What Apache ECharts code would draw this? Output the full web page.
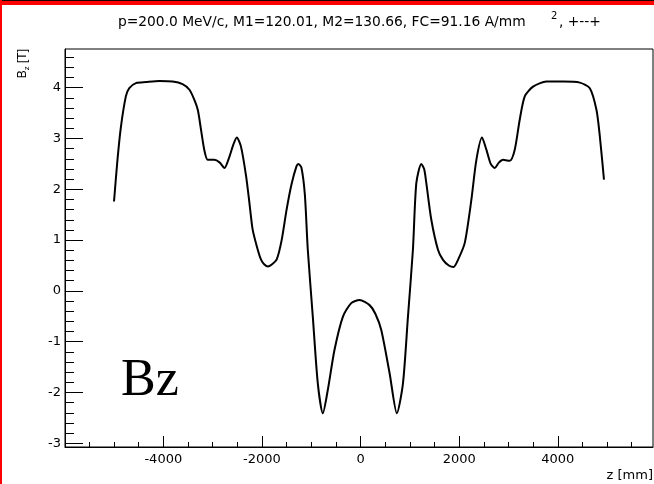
<!DOCTYPE html>
<html>
<head>
<meta charset="utf-8">
<script src="https://cdn.jsdelivr.net/npm/echarts@6/dist/echarts.min.js"></script>
<style>
html,body{margin:0;padding:0;background:#fff;}
#chart{width:654px;height:484px;}
</style>
</head>
<body>
<div id="chart"></div>
<script>
// z positions [mm]
var zValues = [
  -5000, -4930, -4860, -4760, -4690, -4555, -4350, -4080, -3810, -3610,
  -3470, -3370, -3300, -3235, -3170, -3100, -2965, -2860, -2760, -2660,
  -2580, -2510, -2425, -2320, -2250, -2187, -2085, -2016, -1950, -1880,
  -1800, -1700, -1600, -1500, -1400, -1300, -1260, -1200, -1130, -1070,
  -968, -867, -765, -664, -528, -359, -189, -20, 183, 300,
  420, 589, 737, 860, 961, 1062, 1131, 1232, 1290, 1334,
  1435, 1570, 1672, 1790, 1888, 1976, 2112, 2247, 2349, 2463,
  2552, 2640, 2721, 2800, 2890, 3025, 3127, 3228, 3330, 3499,
  3770, 4108, 4447, 4650, 4785, 4853, 4937
];
// Bz [T]
var bzValues = [
  1.76, 2.58, 3.23, 3.83, 3.99, 4.09, 4.11, 4.13, 4.12, 4.07,
  3.96, 3.76, 3.56, 3.17, 2.78, 2.58, 2.58, 2.53, 2.42, 2.64,
  2.88, 3.02, 2.84, 2.25, 1.70, 1.20, 0.81, 0.61, 0.52, 0.48,
  0.52, 0.62, 1.00, 1.60, 2.10, 2.45, 2.50, 2.43, 1.90, 0.81,
  -0.51, -1.82, -2.41, -1.95, -1.16, -0.51, -0.24, -0.18, -0.28, -0.45,
  -0.77, -1.62, -2.41, -1.82, -0.51, 0.81, 2.12, 2.50, 2.40, 2.12,
  1.40, 0.81, 0.61, 0.50, 0.47, 0.61, 0.94, 1.79, 2.58, 3.02,
  2.78, 2.50, 2.42, 2.52, 2.58, 2.56, 2.78, 3.37, 3.83, 4.02,
  4.12, 4.12, 4.10, 3.99, 3.56, 3.04, 2.19
];
var xMajorTicks = [-4000, -2000, 0, 2000, 4000];
var xMinorTicks = [-5500, -5000, -4500, -3500, -3000, -2500, -1500, -1000, -500,
                   500, 1000, 1500, 2500, 3000, 3500, 4500, 5000, 5500];
var yMajorTicks = [-3, -2, -1, 0, 1, 2, 3, 4];
var yMinorTicks = [-2.8, -2.6, -2.4, -2.2, -1.8, -1.6, -1.4, -1.2, -0.8, -0.6, -0.4, -0.2,
                   0.2, 0.4, 0.6, 0.8, 1.2, 1.4, 1.6, 1.8, 2.2, 2.4, 2.6, 2.8,
                   3.2, 3.4, 3.6, 3.8, 4.2, 4.4, 4.6];
var xRange = [-5994, 5931];
var yRange = [-3.073, 4.762];

var seriesData = zValues.map(function (z, i) { return [z, bzValues[i]]; });

var labelFont = 'DejaVu Sans';
var plainFmt = function (v) { return String(v); };
var chart = echarts.init(document.getElementById('chart'), null, {renderer: 'canvas'});
chart.setOption({
  animation: false,
  backgroundColor: '#fff',
  grid: {left: 65, right: 1, top: 49, bottom: 37, show: true, borderColor: '#000', borderWidth: 1, backgroundColor: 'transparent'},
  xAxis: [
    {
      type: 'value', min: xRange[0], max: xRange[1], position: 'bottom',
      axisLine: {show: true, onZero: false, lineStyle: {color: '#000', width: 1}},
      axisTick: {show: true, inside: true, length: 11, customValues: xMajorTicks, lineStyle: {color: '#000', width: 1}},
      axisLabel: {show: true, customValues: xMajorTicks, formatter: plainFmt, margin: 6, color: '#000', fontSize: 13, fontFamily: labelFont},
      splitLine: {show: false}
    },
    {
      type: 'value', min: xRange[0], max: xRange[1], position: 'bottom',
      axisLine: {show: false, onZero: false},
      axisTick: {show: true, inside: true, length: 5, customValues: xMinorTicks, lineStyle: {color: '#000', width: 1}},
      axisLabel: {show: false},
      splitLine: {show: false}
    }
  ],
  yAxis: [
    {
      type: 'value', min: yRange[0], max: yRange[1], position: 'left',
      axisLine: {show: true, onZero: false, lineStyle: {color: '#000', width: 1}},
      axisTick: {show: true, inside: true, length: 18, customValues: yMajorTicks, lineStyle: {color: '#000', width: 1}},
      axisLabel: {show: true, customValues: yMajorTicks, formatter: plainFmt, margin: 4, color: '#000', fontSize: 13, fontFamily: labelFont},
      splitLine: {show: false}
    },
    {
      type: 'value', min: yRange[0], max: yRange[1], position: 'left',
      axisLine: {show: false, onZero: false},
      axisTick: {show: true, inside: true, length: 9, customValues: yMinorTicks, lineStyle: {color: '#000', width: 1}},
      axisLabel: {show: false},
      splitLine: {show: false}
    }
  ],
  series: [{
    type: 'line', data: seriesData, xAxisIndex: 0, yAxisIndex: 0,
    showSymbol: false, symbol: 'none', smooth: 0.25,
    lineStyle: {color: '#000', width: 2}
  }],
  graphic: [
    {type: 'rect', shape: {x: 0, y: 0, width: 654, height: 1}, style: {fill: '#200'}, z: 100},
    {type: 'rect', shape: {x: 0, y: 1, width: 654, height: 4}, style: {fill: '#f00'}, z: 100},
    {type: 'rect', shape: {x: 0, y: 0, width: 2, height: 484}, style: {fill: '#f00'}, z: 100},
    {type: 'text', x: 118, y: 22, style: {text: 'p=200.0 MeV/c, M1=120.01, M2=130.66, FC=91.16 A/mm', fill: '#000', font: '13.8px "DejaVu Sans"', textAlign: 'left', textVerticalAlign: 'middle'}},
    {type: 'text', x: 551, y: 16, style: {text: '2', fill: '#000', font: '10px "DejaVu Sans"', textAlign: 'left', textVerticalAlign: 'middle'}},
    {type: 'text', x: 559, y: 22, style: {text: ', +--+', fill: '#000', font: '13.8px "DejaVu Sans"', textAlign: 'left', textVerticalAlign: 'middle'}},
    {type: 'text', x: 653, y: 476, style: {text: 'z [mm]', fill: '#000', font: '13px "DejaVu Sans"', textAlign: 'right', textVerticalAlign: 'middle'}},
    {type: 'text', x: 23, y: 49, rotation: Math.PI / 2,
      style: {text: '{b|B}{s|z}{b| [T]}', textAlign: 'right', textVerticalAlign: 'middle',
        rich: {
          b: {fontFamily: 'Liberation Sans', fontSize: 12, fill: '#000', lineHeight: 16, verticalAlign: 'middle'},
          s: {fontFamily: 'Liberation Sans', fontSize: 8, fill: '#000', lineHeight: 16, verticalAlign: 'bottom'}
        }}},
    {type: 'text', x: 121, y: 381, style: {text: 'Bz', fill: '#000', font: '52px "Liberation Serif"', textAlign: 'left', textVerticalAlign: 'middle'}}
  ]
});
</script>
</body>
</html>
